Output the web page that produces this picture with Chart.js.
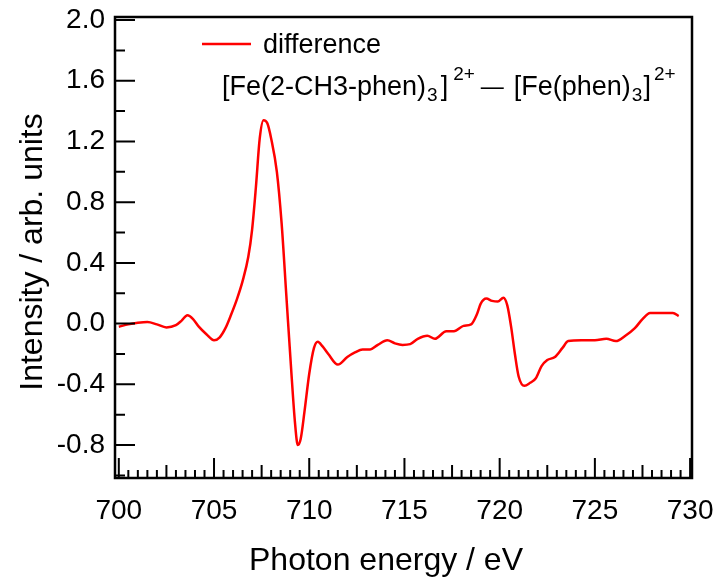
<!DOCTYPE html>
<html>
<head>
<meta charset="UTF-8">
<title>Difference spectrum</title>
<script src="https://cdn.jsdelivr.net/npm/chart.js"></script>
<style>
  html, body { margin: 0; padding: 0; background: #fff; }
</style>
</head>
<body>
<canvas id="grafico" width="715" height="577"></canvas>
<script>
// photon energy (eV) and difference intensity (arb. units)
const energia = [
  700.0, 700.5, 701.0, 701.5, 702.0, 702.5, 703.0, 703.3, 703.6, 703.9,
  704.2, 704.6, 705.0, 705.3, 705.6, 705.9, 706.2, 706.5, 706.8, 707.0,
  707.2, 707.4, 707.6, 707.8, 708.0, 708.3, 708.55, 708.8, 709.05, 709.25,
  709.4, 709.55, 709.75, 710.0, 710.25, 710.45, 710.7, 711.0, 711.5, 712.0,
  712.4, 712.8, 713.2, 713.6, 714.1, 714.5, 714.9, 715.3, 715.7, 716.2,
  716.6, 717.2, 717.6, 718.1, 718.5, 718.8, 719.0, 719.3, 719.6, 719.9,
  720.2, 720.4, 720.6, 720.8, 721.0, 721.3, 721.6, 721.9, 722.2, 722.5,
  722.9, 723.3, 723.6, 724.3, 725.0, 725.6, 726.1, 726.6, 727.1, 727.5,
  727.9, 728.5, 729.1, 729.4
];
const intensidade = [
  -0.02, -0.005, 0.005, 0.01, -0.005, -0.025, -0.01, 0.02, 0.055, 0.03,
  -0.02, -0.07, -0.11, -0.09, -0.03, 0.06, 0.16, 0.28, 0.44, 0.62,
  0.9, 1.22, 1.34, 1.32, 1.22, 1.0, 0.66, 0.18, -0.3, -0.65,
  -0.8, -0.76, -0.58, -0.33, -0.16, -0.12, -0.15, -0.2, -0.27, -0.22,
  -0.19, -0.17, -0.17, -0.14, -0.11, -0.13, -0.14, -0.135, -0.10, -0.08,
  -0.10, -0.05, -0.05, -0.015, -0.005, 0.06, 0.13, 0.165, 0.15, 0.145,
  0.17, 0.12, -0.02, -0.2, -0.35, -0.41, -0.39, -0.36, -0.28, -0.24,
  -0.22, -0.16, -0.115, -0.11, -0.11, -0.10, -0.115, -0.08, -0.03, 0.03,
  0.07, 0.07, 0.07, 0.05
];
const ticksX = [700, 705, 710, 715, 720, 725, 730];
const ticksY = [-0.8, -0.4, 0.0, 0.4, 0.8, 1.2, 1.6, 2.0];

const tituloX = 'Photon energy / eV';
const tituloY = 'Intensity / arb. units';
const FONTE = '"Liberation Sans", Arial, sans-serif';

// formula under the legend entry: text, font size, baseline shift, gap before
const formula = [
  { t: '[Fe(2-CH3-phen)', s: 27, dy: 0, gap: 0 },
  { t: '3', s: 19, dy: 6, gap: 1 },
  { t: ']', s: 27, dy: 0, gap: 3 },
  { t: '2+', s: 19, dy: -15, gap: 5 },
  { t: '\u2014', s: 23, dy: -1, gap: 6 },
  { t: '[Fe(phen)', s: 27, dy: 0, gap: 10 },
  { t: '3', s: 19, dy: 6, gap: 1 },
  { t: ']', s: 27, dy: 0, gap: 1 },
  { t: '2+', s: 19, dy: -15, gap: 3 }
];

// box around the plot with inward tick marks, axis titles and legend
const moldura = {
  id: 'moldura',
  afterDatasetsDraw(chart) {
    const { ctx, chartArea: a, scales: { x, y } } = chart;
    ctx.save();
    ctx.strokeStyle = '#000';
    ctx.lineWidth = 2;
    ctx.beginPath();
    ticksX.forEach((v, i) => {
      const px = x.getPixelForValue(v);
      ctx.moveTo(px, a.bottom);
      ctx.lineTo(px, a.bottom - 20);
      if (i === ticksX.length - 1) return;
      for (let k = 1; k < 10; k++) {
        const pm = x.getPixelForValue(v + k * 0.5);
        ctx.moveTo(pm, a.bottom);
        ctx.lineTo(pm, a.bottom - (k === 5 ? 13 : 8));
      }
    });
    ticksY.forEach(v => {
      const py = y.getPixelForValue(v);
      ctx.moveTo(a.left, py);
      ctx.lineTo(a.left + 20, py);
      const pm = y.getPixelForValue(v - 0.2);
      ctx.moveTo(a.left, pm);
      ctx.lineTo(a.left + 10, pm);
    });
    ctx.stroke();

    ctx.lineWidth = 2.5;
    ctx.strokeRect(a.left, a.top, a.right - a.left, a.bottom - a.top);

    // axis titles
    ctx.fillStyle = '#000';
    ctx.textAlign = 'center';
    ctx.textBaseline = 'alphabetic';
    ctx.font = '32px ' + FONTE;
    ctx.fillText(tituloX, 386, 570);
    ctx.save();
    ctx.translate(42, 252);
    ctx.rotate(-Math.PI / 2);
    ctx.fillText(tituloY, 0, 0);
    ctx.restore();

    // legend
    const ds = chart.data.datasets[0];
    ctx.strokeStyle = ds.borderColor;
    ctx.lineWidth = ds.borderWidth;
    ctx.beginPath();
    ctx.moveTo(202, 44);
    ctx.lineTo(251, 44);
    ctx.stroke();
    ctx.textAlign = 'left';
    ctx.font = '27px ' + FONTE;
    ctx.fillText(ds.label, 263, 53);

    let cx = 222;
    formula.forEach(p => {
      ctx.font = p.s + 'px ' + FONTE;
      cx += p.gap;
      ctx.fillText(p.t, cx, 95 + p.dy);
      cx += ctx.measureText(p.t).width;
    });
    ctx.restore();
  }
};

new Chart(document.getElementById('grafico'), {
  type: 'line',
  data: {
    datasets: [{
      label: 'difference',
      data: energia.map((e, i) => ({ x: e, y: intensidade[i] })),
      borderColor: '#ff0000',
      borderWidth: 2.5,
      pointRadius: 0,
      fill: false,
      cubicInterpolationMode: 'monotone'
    }]
  },
  options: {
    responsive: false,
    animation: false,
    devicePixelRatio: 1,
    layout: { padding: { top: 17, right: 23, left: 0, bottom: 0 } },
    plugins: { legend: { display: false }, tooltip: { enabled: false } },
    scales: {
      x: {
        type: 'linear',
        min: 699.8,
        max: 730.1,
        afterBuildTicks: s => { s.ticks = ticksX.map(v => ({ value: v })); },
        afterFit: s => { s.height = 99; s.paddingLeft = 0; s.paddingRight = 0; },
        ticks: { color: '#000', font: { family: FONTE, size: 28 }, padding: 16, maxRotation: 0, autoSkip: false },
        grid: { display: false, drawTicks: false },
        border: { display: false }
      },
      y: {
        min: -1.017,
        max: 2.02,
        afterBuildTicks: s => { s.ticks = ticksY.map(v => ({ value: v })); },
        afterFit: s => { s.width = 115; s.paddingTop = 0; s.paddingBottom = 0; },
        ticks: { color: '#000', font: { family: FONTE, size: 28 }, padding: 10, callback: v => v.toFixed(1) },
        grid: { display: false, drawTicks: false },
        border: { display: false }
      }
    }
  },
  plugins: [moldura]
});
</script>
</body>
</html>
